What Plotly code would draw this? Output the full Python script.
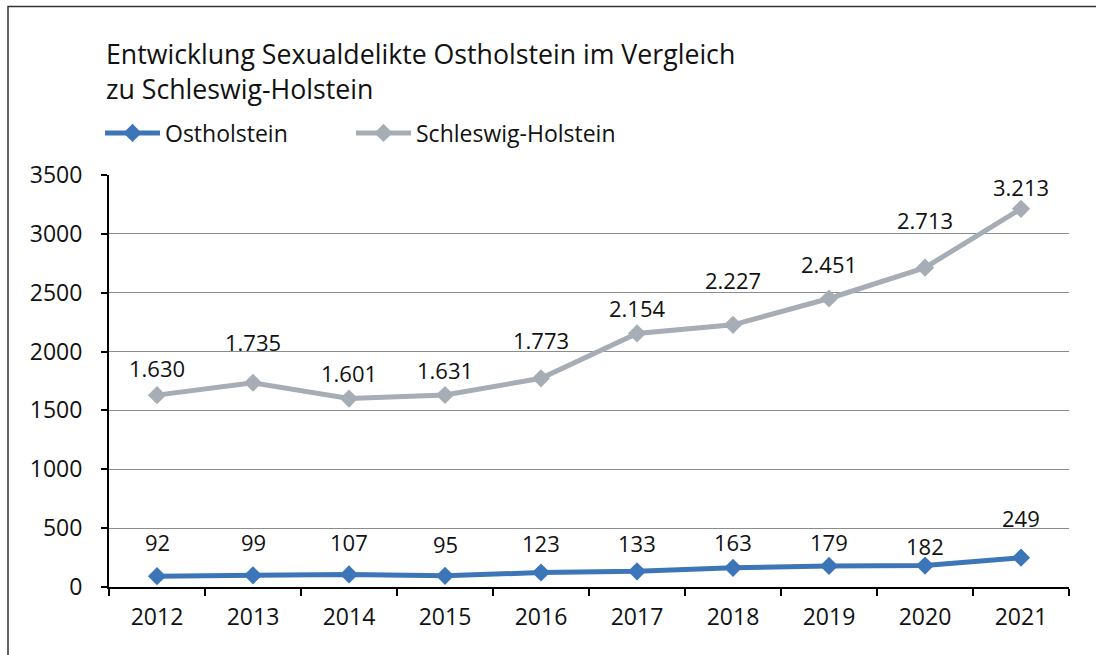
import plotly.graph_objects as go

years = ["2012", "2013", "2014", "2015", "2016", "2017", "2018", "2019", "2020", "2021"]
ostholstein = [92, 99, 107, 95, 123, 133, 163, 179, 182, 249]
schleswig_holstein = [1630, 1735, 1601, 1631, 1773, 2154, 2227, 2451, 2713, 3213]
y_ticks = [0, 500, 1000, 1500, 2000, 2500, 3000, 3500]
title_text = "Entwicklung Sexualdelikte Ostholstein im Vergleich<br>zu Schleswig-Holstein"

# label vertical offsets (px) above the markers
oh_label_shift = [34, 33, 32, 32, 30, 28, 26, 24, 20, 40]
sh_label_shift = [27, 41, 26, 25, 38, 25, 45, 34, 48, 22]

FONT = "Open Sans"
BLUE = "#3d76b8"
GRAY = "#a6adb5"
TXT = "#111111"

W, H = 1096, 655
L, R, T, B = 109, 27, 175, 68
PW, PH = W - L - R, H - T - B

def px(x):
    return (x - L) / PW

def py(y):
    return (H - B - y) / PH

def fmt(v):
    return f"{v:,}".replace(",", ".")

fig = go.Figure()
fig.add_trace(go.Scatter(
    x=years, y=ostholstein, name="Ostholstein", mode="lines+markers", legend="legend",
    line=dict(color=BLUE, width=5), marker=dict(symbol="diamond", size=14, color=BLUE),
))
fig.add_trace(go.Scatter(
    x=years, y=schleswig_holstein, name="Schleswig-Holstein", mode="lines+markers", legend="legend2",
    line=dict(color=GRAY, width=5), marker=dict(symbol="diamond", size=14, color=GRAY),
))

annotations = []
for ys, shifts in [(ostholstein, oh_label_shift), (schleswig_holstein, sh_label_shift)]:
    for i, (y, s) in enumerate(zip(ys, shifts)):
        annotations.append(dict(x=i, y=y, xref="x", yref="y", text=fmt(y), showarrow=False,
                                yshift=s, font=dict(family=FONT, size=22, color=TXT)))

annotations.append(dict(
    x=px(104), y=py(33), xref="paper", yref="paper", xanchor="left", yanchor="top",
    text=title_text, showarrow=False, align="left", font=dict(family=FONT, size=26.7, color=TXT),
))

legend_style = dict(orientation="h", yanchor="middle", xanchor="left",
                    font=dict(family=FONT, size=23, color=TXT),
                    itemwidth=55, bgcolor="rgba(0,0,0,0)")

fig.update_layout(
    width=W, height=H,
    margin=dict(l=L, r=R, t=T, b=B),
    paper_bgcolor="white", plot_bgcolor="white",
    font=dict(family=FONT, size=22, color=TXT),
    showlegend=True,
    legend=dict(x=px(100), y=py(133), **legend_style),
    legend2=dict(x=px(351), y=py(133), **legend_style),
    annotations=annotations,
    shapes=[dict(type="rect", xref="paper", yref="paper",
                 x0=px(8), x1=px(1200), y0=py(800), y1=py(6.5),
                 line=dict(color="#333333", width=1.5), fillcolor="rgba(0,0,0,0)", layer="below")],
)
fig.update_xaxes(
    type="category", range=[-0.5, len(years) - 0.5], showline=True, linecolor="black", linewidth=2,
    ticks="outside", tickson="boundaries", ticklen=7, tickwidth=2, tickcolor="black",
    ticklabelstandoff=8,
    showgrid=False, tickfont=dict(family=FONT, size=23, color=TXT), tickangle=0,
)
fig.update_yaxes(
    range=[0, 3500], tickvals=y_ticks, showline=True, linecolor="black", linewidth=2,
    ticks="outside", ticklen=6, tickwidth=2, tickcolor="black", ticklabelstandoff=14,
    showgrid=True, gridcolor="#8c8c8c", gridwidth=1, zeroline=False,
    tickfont=dict(family=FONT, size=23, color=TXT),
)

fig.write_html("out.html", config={"displayModeBar": False},
               post_script="document.body.style.margin='0px';")
